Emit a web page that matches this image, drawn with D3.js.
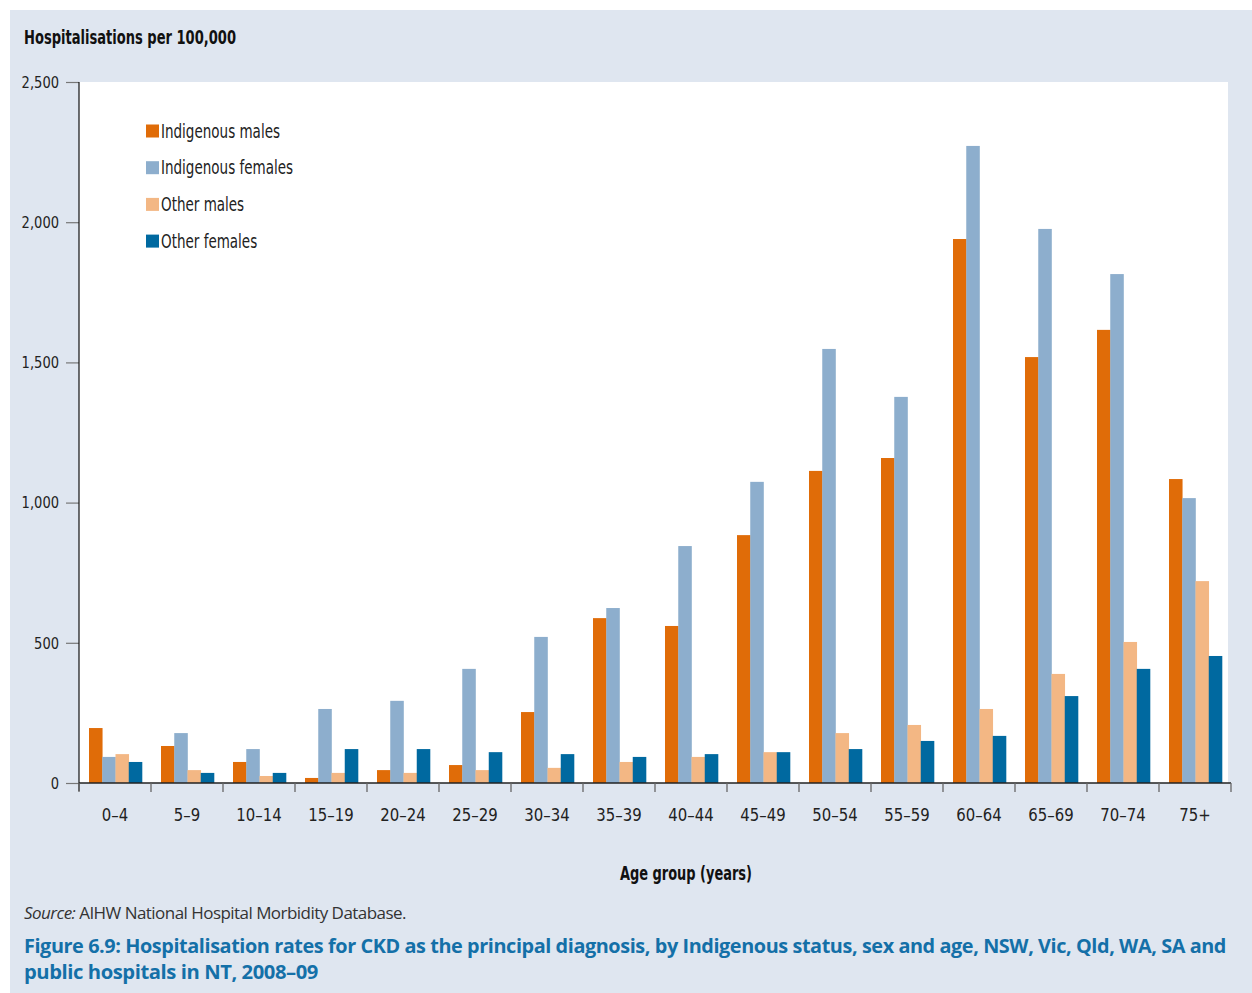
<!DOCTYPE html>
<html><head><meta charset="utf-8">
<script src="https://cdn.jsdelivr.net/npm/d3@7"></script>
<style>
html,body{margin:0;padding:0;background:#fff;}
svg{display:block;}
</style></head>
<body>
<svg id="chart" width="1252" height="993"></svg>
<script>
const categories = ["0\u20134","5\u20139","10\u201314","15\u201319","20\u201324","25\u201329","30\u201334","35\u201339","40\u201344","45\u201349","50\u201354","55\u201359","60\u201364","65\u201369","70\u201374","75+"];
const seriesNames = ["Indigenous males","Indigenous females","Other males","Other females"];
const indigenousMales   = [196,132,75,18,46,64,253,588,560,884,1113,1159,1940,1519,1616,1084];
const indigenousFemales = [93,178,121,264,293,407,521,624,845,1074,1548,1377,2272,1976,1815,1016];
const otherMales        = [103,46,25,36,36,46,54,75,93,110,178,207,264,389,503,720];
const otherFemales      = [75,36,36,121,121,110,103,93,103,110,121,150,168,310,407,453];
const yTicks = [0,500,1000,1500,2000,2500];
const colors = ["#e06c08","#8daecd","#f3b784","#0069a0"];

(function(){
const seriesValues = [indigenousMales, indigenousFemales, otherMales, otherFemales];
const svg = d3.select("#chart");
const condFont = '"Liberation Sans Narrow","DejaVu Sans Condensed",sans-serif';

function condense(sel, ratio){
  sel.each(function(){
    const len = this.getComputedTextLength();
    d3.select(this).attr("textLength", len*ratio).attr("lengthAdjust","spacingAndGlyphs");
  });
}
function fitTo(sel, len){
  sel.attr("textLength", len).attr("lengthAdjust","spacingAndGlyphs");
}

svg.append("rect").attr("x",10).attr("y",10).attr("width",1242).attr("height",983).attr("fill","#dfe6f0");

const pL=79, pR=1231, pT=82, pB=783;
svg.append("rect").attr("x",pL).attr("y",pT).attr("width",1228-pL).attr("height",pB-pT).attr("fill","#ffffff");

const y = d3.scaleLinear().domain([0,2500]).range([pB, pT]);
const x0 = d3.scaleBand().domain(categories).range([pL,pR]).padding(0);
const x1 = d3.scaleBand().domain(d3.range(4)).range([10, 63]).padding(0);

const g = svg.append("g");
categories.forEach((c,i)=>{
  seriesValues.forEach((vals,s)=>{
    g.append("rect")
     .attr("x", x0(c)+x1(s))
     .attr("y", y(vals[i]))
     .attr("width", x1.bandwidth()+0.3)
     .attr("height", y(0)-y(vals[i]))
     .attr("fill", colors[s]);
  });
});

const yAxis = d3.axisLeft(y).tickValues(yTicks).tickSize(13).tickPadding(7).tickFormat(d3.format(","));
const ya = svg.append("g").attr("transform",`translate(${pL},0)`).call(yAxis);
ya.select(".domain").remove();
ya.selectAll(".tick line").attr("stroke","#777").attr("stroke-width",1.2);
ya.selectAll(".tick text").attr("font-family",condFont).attr("font-size",16.5).attr("fill","#222").call(condense,0.88);
svg.append("line").attr("x1",pL).attr("x2",pL).attr("y1",pT).attr("y2",pB+8).attr("stroke","#111").attr("stroke-width",1.2);

const boundaries = categories.map(c=>x0(c)).concat([pR]);
svg.append("line").attr("x1",pL).attr("x2",pR).attr("y1",pB).attr("y2",pB).attr("stroke","#222").attr("stroke-width",1.5);
svg.selectAll(".xt").data(boundaries).enter().append("line")
  .attr("x1",d=>d).attr("x2",d=>d).attr("y1",pB).attr("y2",pB+9)
  .attr("stroke","#666").attr("stroke-width",1.3);
const xa = svg.append("g").attr("transform",`translate(0,${pB})`)
  .call(d3.axisBottom(x0).tickSize(0).tickPadding(25));
xa.select(".domain").remove();
xa.selectAll(".tick text").attr("font-family",condFont).attr("font-size",18).attr("fill","#222").call(condense,0.92);

svg.append("text").attr("x",24).attr("y",44).attr("font-family",condFont).attr("font-weight","bold")
  .attr("font-size",19).attr("fill","#111").text("Hospitalisations per 100,000").call(fitTo,212);
svg.append("text").attr("x",686).attr("y",880).attr("text-anchor","middle").attr("font-family",condFont)
  .attr("font-weight","bold").attr("font-size",19).attr("fill","#111").text("Age group (years)").call(fitTo,132);

const lg = svg.append("g");
seriesNames.forEach((n,i)=>{
  const cy = 131 + i*36.7;
  lg.append("rect").attr("x",146).attr("y",cy-6.5).attr("width",13).attr("height",13).attr("fill",colors[i]);
  lg.append("text").attr("x",161).attr("y",cy+6.5).attr("font-family",condFont).attr("font-size",19).attr("fill","#222").text(n).call(condense,0.79);
});

const src = svg.append("text").attr("x",24).attr("y",919).attr("font-family","'Open Sans',sans-serif").attr("font-size",16).attr("fill","#333").attr("letter-spacing",-0.5);
src.append("tspan").attr("font-style","italic").text("Source:");
src.append("tspan").text(" AIHW National Hospital Morbidity Database.");
src.call(fitTo,382);

const t1 = "Figure 6.9: Hospitalisation rates for CKD as the principal diagnosis, by Indigenous status, sex and age, NSW, Vic, Qld, WA, SA and";
const t2 = "public hospitals in NT, 2008\u201309";
svg.append("text").attr("x",24).attr("y",953).attr("font-family","'Open Sans',sans-serif").attr("font-weight","bold")
    .attr("font-size",18.8).attr("letter-spacing",-0.4).attr("fill","#1470a8").text(t1).call(fitTo,1202);
svg.append("text").attr("x",24).attr("y",979).attr("font-family","'Open Sans',sans-serif").attr("font-weight","bold")
    .attr("font-size",18.8).attr("letter-spacing",-0.4).attr("fill","#1470a8").text(t2).call(fitTo,294);
})();
</script>
</body></html>
